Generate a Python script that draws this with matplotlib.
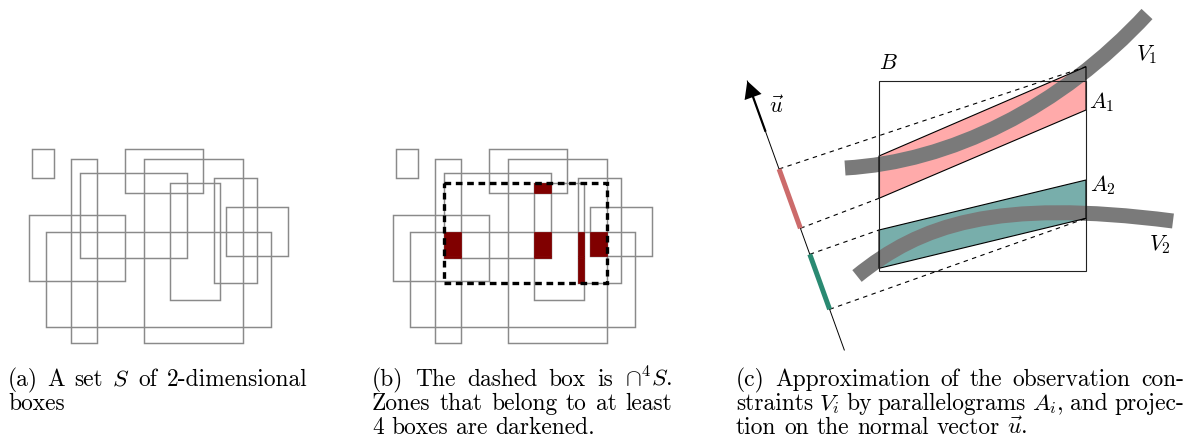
import matplotlib
matplotlib.use('Agg')
import matplotlib.pyplot as plt
from matplotlib.patches import Rectangle, Polygon, PathPatch
from matplotlib.path import Path
import numpy as np

plt.rcParams['mathtext.fontset'] = 'cm'
plt.rcParams['font.family'] = ['cmr10', 'DejaVu Serif']
plt.rcParams['axes.formatter.use_mathtext'] = True

# ---------------- data ----------------
# Panel (a)/(b): set S of boxes (pixel coordinates inside panel (a))
box_x0 = [32.0, 71.0, 125.0, 144.3, 79.7, 169.7, 214.3, 226.0, 29.3, 45.7]
box_x1 = [54.3, 96.7, 203.3, 242.7, 186.7, 220.3, 257.0, 288.0, 124.7, 271.0]
box_y0 = [149.0, 159.0, 149.0, 159.0, 173.3, 183.3, 178.3, 207.3, 214.7, 231.7]
box_y1 = [178.3, 343.3, 192.7, 343.3, 258.3, 300.0, 283.3, 256.0, 280.7, 326.7]
min_overlap = 4
panel_b_shift = 364.0

# Panel (c)
box_B = [879.0, 1086.0, 81.0, 271.0]          # x0, x1, y0, y1
para_x = [879.0, 1086.0]                      # left / right x of parallelograms
A1_left_y = [156.0, 198.3]
A1_right_y = [66.7, 110.0]
A2_left_y = [230.0, 268.3]
A2_right_y = [180.0, 218.3]
V1_ctrl = [(845.0, 168.0), (950.0, 162.0), (1060.0, 108.0), (1147.0, 14.0)]
V2_ctrl = [(857.0, 276.0), (920.0, 225.0), (995.0, 198.0), (1173.0, 221.0)]
axis_tip = (747.3, 81.0)
axis_end = (844.3, 350.0)
arrow_shaft_start_y = 131.7
pink_seg_y = [169.0, 228.3]
teal_seg_y = [254.3, 309.3]

labels_c = [("$B$", 888, 63), ("$V_1$", 1147, 55), ("$A_1$", 1102, 102),
            ("$A_2$", 1103, 185), ("$V_2$", 1160, 245), (r"$\vec{u}$", 777, 106)]

captions = {
    'a': (8, 307, [("(a) A set $S$ of 2-dimensional", True), ("boxes", False)]),
    'b': (372, 672, [(r"(b) The dashed box is $\cap^4S$.", True),
                     ("Zones that belong to at least", True),
                     ("4 boxes are darkened.", False)]),
    'c': (736, 1184, [("(c) Approximation of the observation con-", True),
                      ("straints $V_i$ by parallelograms $A_i$, and projec-", True),
                      (r"tion on the normal vector $\vec{u}$.", False)]),
}
baselines = [386, 410, 434]

# colours
box_gray = '#8a8a8a'
dark_red = '#800000'
pink_fill = '#ffaaaa'
teal_fill = '#78aeab'
band_gray = '#7a7a7a'
pink_seg = '#cc6b6b'
teal_seg = '#2a8a72'

# ---------------- figure ----------------
fig = plt.figure(figsize=(11.94, 4.41), dpi=100)
ax = fig.add_axes([0, 0, 1, 1])
ax.set_xlim(0, 1194)
ax.set_ylim(441, 0)
ax.axis('off')

# panels (a) and (b): boxes
for shift in (0.0, panel_b_shift):
    for x0, x1, y0, y1 in zip(box_x0, box_x1, box_y0, box_y1):
        ax.add_patch(Rectangle((x0 + shift, y0), x1 - x0, y1 - y0, fill=False,
                               edgecolor=box_gray, lw=1.05, zorder=2))

# zones belonging to >= min_overlap boxes
xs = np.unique(box_x0 + box_x1)
ys = np.unique(box_y0 + box_y1)
zx0, zx1, zy0, zy1 = [], [], [], []
for i in range(len(xs) - 1):
    for j in range(len(ys) - 1):
        cx = 0.5 * (xs[i] + xs[i + 1])
        cy = 0.5 * (ys[j] + ys[j + 1])
        n = sum(1 for a0, a1, b0, b1 in zip(box_x0, box_x1, box_y0, box_y1)
                if a0 < cx < a1 and b0 < cy < b1)
        if n >= min_overlap:
            zx0.append(xs[i]); zx1.append(xs[i + 1])
            zy0.append(ys[j]); zy1.append(ys[j + 1])
            ax.add_patch(Rectangle((xs[i] + panel_b_shift, ys[j]), xs[i + 1] - xs[i],
                                   ys[j + 1] - ys[j], facecolor=dark_red,
                                   edgecolor=dark_red, lw=0.5, zorder=3))
# dashed box = bounding box of those zones
bx0, bx1, by0, by1 = min(zx0), max(zx1), min(zy0), max(zy1)
ax.add_patch(Rectangle((bx0 + panel_b_shift, by0), bx1 - bx0, by1 - by0, fill=False,
                       edgecolor='black', lw=2.4, linestyle=(0, (2.0, 1.4)), zorder=4))

# panel (c)
def axis_x(y):
    return axis_tip[0] + (axis_end[0] - axis_tip[0]) * (y - axis_tip[1]) / (axis_end[1] - axis_tip[1])

A1 = [(para_x[0], A1_left_y[0]), (para_x[1], A1_right_y[0]),
      (para_x[1], A1_right_y[1]), (para_x[0], A1_left_y[1])]
A2 = [(para_x[0], A2_left_y[0]), (para_x[1], A2_right_y[0]),
      (para_x[1], A2_right_y[1]), (para_x[0], A2_left_y[1])]

ax.add_patch(Polygon(A1, closed=True, facecolor=pink_fill, edgecolor='none', zorder=2))
ax.add_patch(Polygon(A2, closed=True, facecolor=teal_fill, edgecolor='none', zorder=2))

codes = [Path.MOVETO, Path.CURVE4, Path.CURVE4, Path.CURVE4]
for ctrl in (V1_ctrl, V2_ctrl):
    ax.add_patch(PathPatch(Path(ctrl, codes), fill=False, edgecolor=band_gray,
                           lw=10.8, capstyle='butt', zorder=3))

ax.add_patch(Polygon(A1, closed=True, fill=False, edgecolor='black', lw=0.8, zorder=4))
ax.add_patch(Polygon(A2, closed=True, fill=False, edgecolor='black', lw=0.8, zorder=4))
ax.add_patch(Rectangle((box_B[0], box_B[2]), box_B[1] - box_B[0], box_B[3] - box_B[2],
                       fill=False, edgecolor='#222222', lw=0.8, zorder=4))

# axis u
ax.plot([axis_tip[0], axis_end[0]], [axis_tip[1], axis_end[1]], color='black', lw=0.7, zorder=4)
sx, sy = axis_x(arrow_shaft_start_y), arrow_shaft_start_y
ax.arrow(sx, sy, axis_tip[0] - sx, axis_tip[1] - sy, width=2.2, head_width=18,
         head_length=17, length_includes_head=True, fc='black', ec='none', zorder=5)

# projected segments
for segy, col in ((pink_seg_y, pink_seg), (teal_seg_y, teal_seg)):
    ax.plot([axis_x(segy[0]), axis_x(segy[1])], segy, color=col, lw=3.6,
            solid_capstyle='butt', zorder=5)

# dashed projection lines
proj = [(pink_seg_y[0], A1[1]), (pink_seg_y[1], A1[3]),
        (teal_seg_y[0], A2[0]), (teal_seg_y[1], A2[2])]
for yy, corner in proj:
    ax.plot([axis_x(yy), corner[0]], [yy, corner[1]], color='black', lw=0.8,
            linestyle=(0, (4, 4)), zorder=4)

for s, x, y in labels_c:
    ax.text(x, y, s, fontsize=16, ha='center', va='center', zorder=6)

# captions (justified, TeX-like interword space for ragged lines)
renderer = fig.canvas.get_renderer()
FS = 16.9
space = 0.333 * FS * 100 / 72
for key, (L, R, lines) in captions.items():
    for (line, just), yb in zip(lines, baselines):
        words = line.split(' ')
        merged = []
        buf = None
        for w in words:
            if buf is not None:
                buf += ' ' + w
                if buf.count('$') % 2 == 0:
                    merged.append(buf); buf = None
            elif w.count('$') % 2 == 1:
                buf = w
            else:
                merged.append(w)
        texts = [ax.text(0, yb, w, fontsize=FS, ha='left', va='baseline') for w in merged]
        widths = [t.get_window_extent(renderer).width for t in texts]
        if just and len(texts) > 1:
            gap = (R - L - sum(widths)) / (len(texts) - 1)
        else:
            gap = space
        x = L
        for t, w in zip(texts, widths):
            t.set_x(x)
            x += w + gap

fig.savefig('out.png', dpi=100)
